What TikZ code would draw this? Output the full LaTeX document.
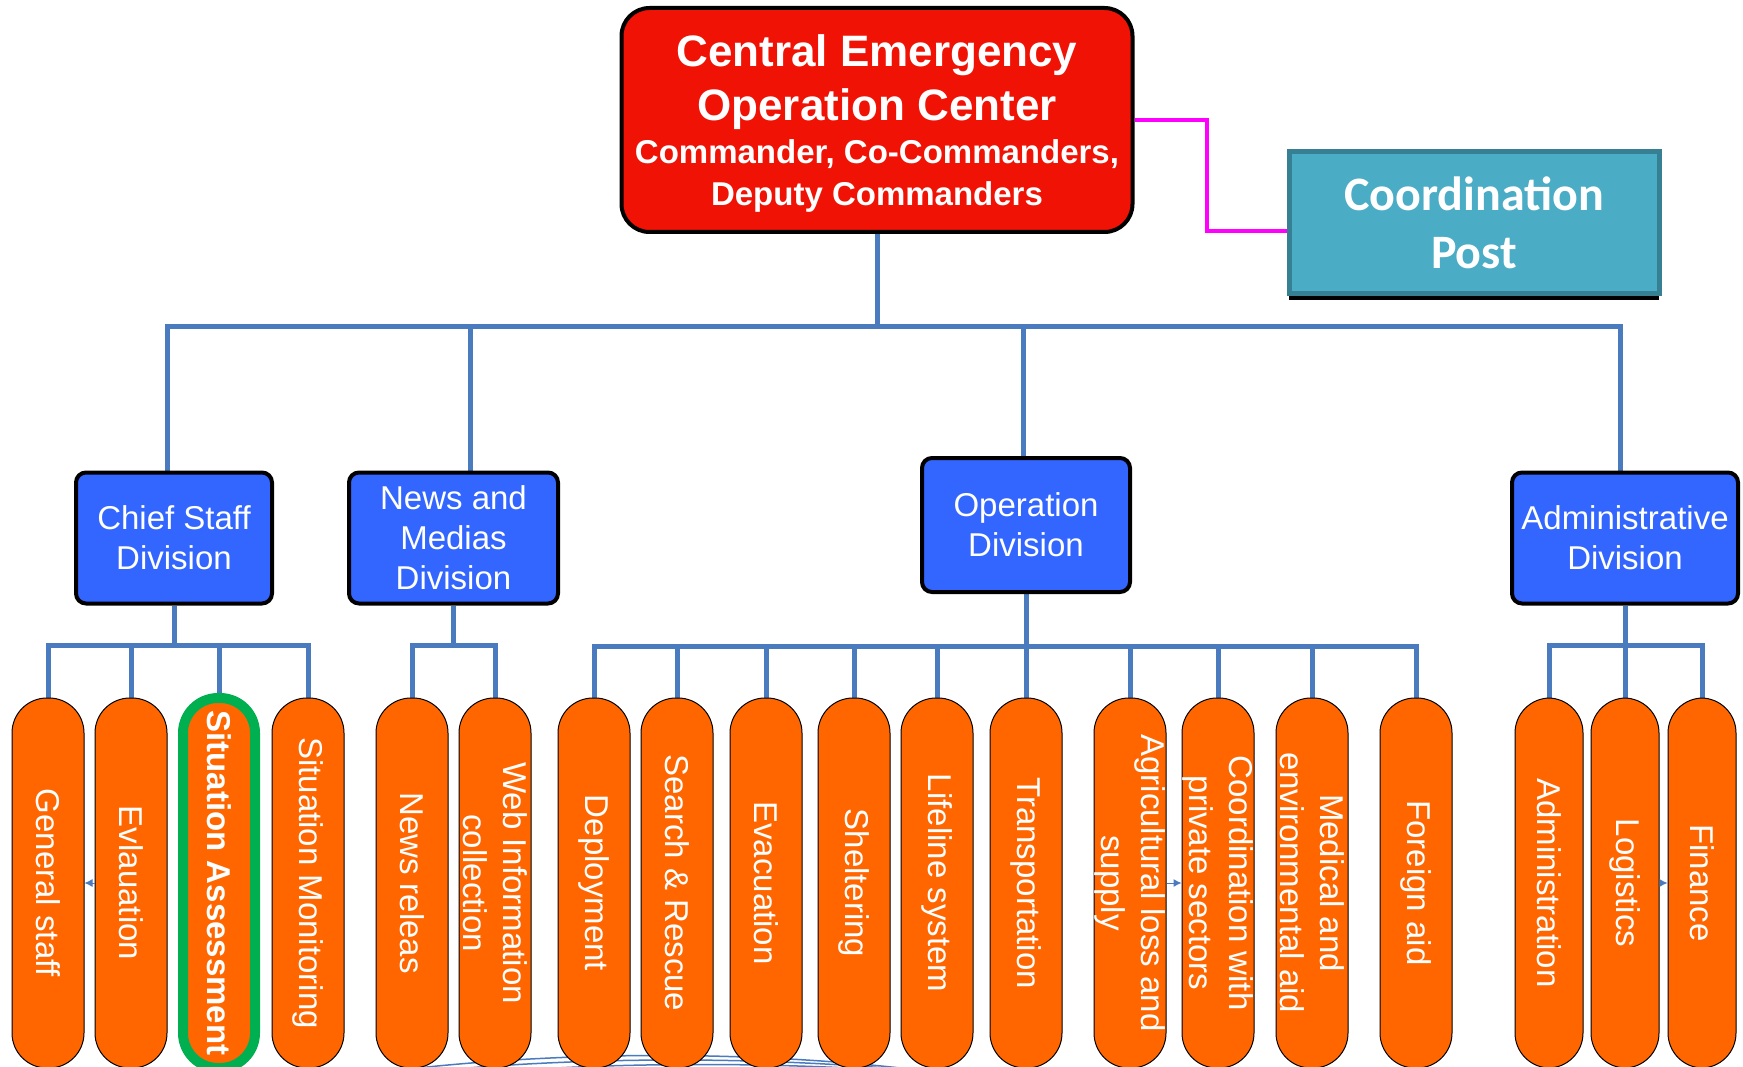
\documentclass[tikz,border=0pt]{standalone}
\usepackage{fontspec}
\setmainfont{Liberation Sans}
\newfontfamily\cpfont{Carlito}
\usetikzlibrary{arrows.meta,shadows}
\pgfdeclarelayer{background}
\pgfsetlayers{background,main}
\definecolor{ceocred}{RGB}{240,18,5}
\definecolor{divblue}{RGB}{51,102,255}
\definecolor{unitorange}{RGB}{255,102,0}
\definecolor{cpteal}{RGB}{75,172,198}
\definecolor{cpborder}{RGB}{55,128,148}
\definecolor{busblue}{RGB}{74,123,190}
\definecolor{markgreen}{RGB}{0,176,80}
\definecolor{linkpink}{RGB}{255,0,255}
\tikzstyle{division}=[rectangle,rounded corners=10pt,draw=black,line width=4pt,fill=divblue,text=white,inner sep=0pt,align=center,font=\fontsize{33}{40}\selectfont]
\tikzstyle{unit}=[rectangle,rounded corners=35pt,draw=black,line width=1pt,fill=unitorange,text=white,rotate=-90,minimum width=370pt,minimum height=72pt,inner sep=0pt,align=center,font=\fontsize{33}{40}\selectfont]
\tikzstyle{selected unit}=[unit,draw=markgreen,line width=10pt,font=\fontsize{33}{40}\selectfont\bfseries]
\tikzstyle{bus}=[draw=busblue,line width=5pt]
\tikzstyle{link}=[draw=linkpink,line width=4pt]
\tikzstyle{tip}=[draw=busblue,line width=1pt,-{Latex[length=8pt,width=8pt]}]
\tikzstyle{arc}=[draw=busblue,line width=1.5pt]

\begin{document}
\begin{tikzpicture}[x=1pt,y=-1pt]
    \useasboundingbox (0,0) rectangle (1743,1067);
    % The head box and the coordination post
    \node[rectangle,rounded corners=28pt,draw=black,line width=4pt,fill=ceocred,text=white,minimum width=511pt,minimum height=224pt,inner sep=0pt,align=center,font=\fontsize{44}{54}\selectfont\bfseries] (ceoc) at (877,120)
        {\rule{0pt}{39pt}Central Emergency\\Operation Center\\[-11pt]\fontsize{33}{42}\selectfont Commander, Co-Commanders,\\[-12pt]\fontsize{33}{42}\selectfont Deputy Commanders};
    \node[rectangle,draw=cpborder,line width=5pt,fill=cpteal,text=white,minimum width=370pt,minimum height=142pt,inner sep=0pt,align=center,font=\cpfont\fontsize{48}{58}\selectfont\bfseries,drop shadow={shadow xshift=0pt,shadow yshift=-6pt,opacity=1,fill=black}] (cp) at (1474,223) {Coordination\\Post};

    % Then the divisions
    \node[division,minimum width=196pt,minimum height=131pt] (csd) at (174,538) {Chief Staff\\Division};
    \node[division,minimum width=209pt,minimum height=131pt] (nmd) at (453.5,538) {News and\\Medias\\Division};
    \node[division,minimum width=208pt,minimum height=134pt] (opd) at (1026,525) {Operation\\Division};
    \node[division,minimum width=226pt,minimum height=131pt] (add) at (1625,538) {Administrative\\Division};

    % And the units under them
    \foreach \xpos/\name/\txt in {48/gs/General staff, 131/ev/Evlauation, 308/sm/Situation Monitoring, 412/nr/News releas, 495/wic/{Web Information\\collection}, 594/dep/Deployment, 677/sr/Search \& Rescue, 766/eva/Evacuation, 854/shl/Sheltering, 937/lfs/Lifeline system, 1026/trn/Transportation, 1130/agr/{Agricultural loss and\\supply}, 1218/cpr/{Coordination with\\private sectors}, 1312/med/{Medical and\\environmental aid}, 1416/fgn/Foreign aid}
        \node[unit] (\name) at (\xpos,883) {\txt};
    \foreach \xpos/\name/\txt in {1549/adm/Administration, 1625/log/Logistics, 1702/fin/Finance}
        \node[unit,minimum height=68pt] (\name) at (\xpos,883) {\txt};
    \node[selected unit] (sa) at (219,883) {Situation Assessment};

    % Connect everything
    \path[link] (ceoc.east) -- ++(72,0) |- ([yshift=-8pt]cp.west);
    \begin{pgfonlayer}{background}
        \path[bus] (ceoc.south) -- ++(0,93) -| ([xshift=-7pt]csd.north);
        \path[bus] (ceoc.south) -- ++(0,93) -| ([xshift=17pt]nmd.north);
        \path[bus] (ceoc.south) -- ++(0,93) -| ([xshift=-3pt]opd.north);
        \path[bus] (ceoc.south) -- ++(0,93) -| ([xshift=-5pt]add.north);
        \foreach \dest in {gs,ev,sa,sm}
            \path[bus] (csd.south) -- ++(0,40) -| (\dest.west);
        \foreach \dest in {nr,wic}
            \path[bus] (nmd.south) -- ++(0,40) -| (\dest.west);
        \foreach \dest in {dep,sr,eva,shl,lfs,trn,agr,cpr,med,fgn}
            \path[bus] (opd.south) -- ++(0,52) -| (\dest.west);
        \foreach \dest in {adm,log,fin}
            \path[bus] (add.south) -- ++(0,40) -| (\dest.west);
        \coordinate (arcA) at (383,1072);
        \coordinate (arcB) at (935,1072);
        \coordinate (arcC) at (395,1075);
        \coordinate (arcD) at (960,1075);
        \coordinate (arcE) at (420,1078);
        \coordinate (arcF) at (990,1078);
        \path[arc] (arcA) .. controls (560,1050) and (760,1050) .. (arcB);
        \path[arc] (arcC) .. controls (570,1055) and (780,1055) .. (arcD);
        \path[arc] (arcE) .. controls (600,1060) and (800,1060) .. (arcF);
    \end{pgfonlayer}
    \draw[tip] (ev.south) -- (gs.north);
    \draw[tip] (agr.north) -- (cpr.south);
    \draw[tip] (log.north) -- (fin.south);
\end{tikzpicture}
\end{document}
